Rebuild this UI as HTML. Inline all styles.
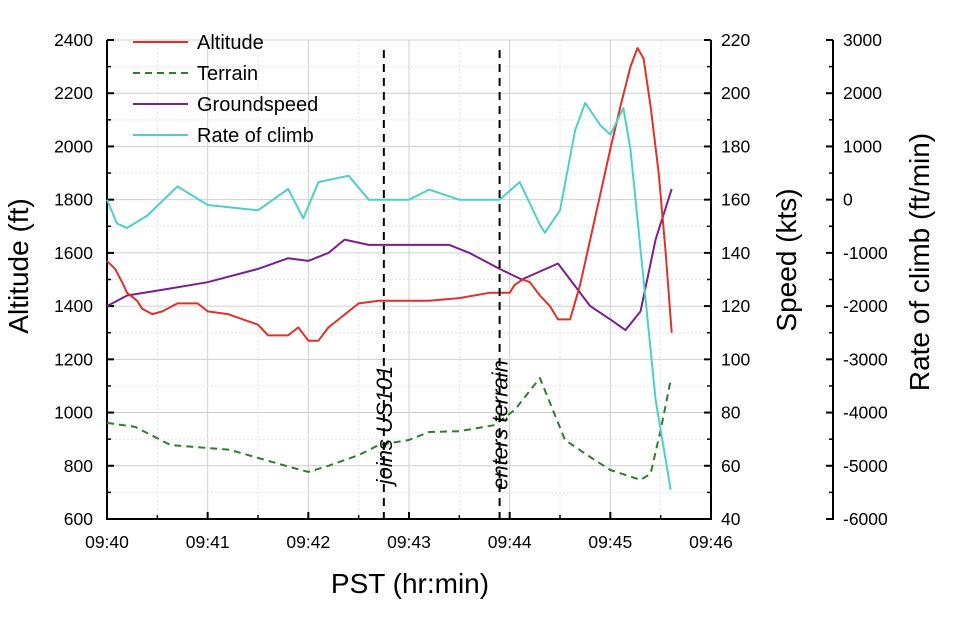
<!DOCTYPE html>
<html><head><meta charset="utf-8"><style>
body{margin:0;background:#fff;}
svg text{font-family:"Liberation Sans",Arial,sans-serif;fill:#000;}
</style></head><body>
<svg id="chart" width="975" height="629" viewBox="0 0 975 629" xmlns="http://www.w3.org/2000/svg"></svg>
<script>
// time in minutes after 09:40
const altT = [0,0.08,0.15,0.2,0.3,0.35,0.45,0.55,0.7,0.9,1.0,1.2,1.5,1.6,1.8,1.9,2.0,2.1,2.2,2.4,2.5,2.7,3.0,3.2,3.5,3.8,4.0,4.05,4.13,4.2,4.3,4.4,4.48,4.6,4.7,4.8,4.9,5.0,5.1,5.2,5.27,5.33,5.4,5.48,5.55,5.61];
const altV = [1570,1540,1490,1450,1420,1390,1370,1380,1410,1410,1380,1370,1330,1290,1290,1320,1270,1270,1320,1380,1410,1420,1420,1420,1430,1450,1450,1480,1500,1490,1440,1400,1350,1350,1480,1650,1820,1990,2150,2300,2370,2330,2150,1900,1600,1300];
const terT = [0,0.28,0.63,1.22,1.82,2.0,2.2,2.5,2.7,3.0,3.2,3.5,3.85,4.05,4.3,4.45,4.55,4.8,5.0,5.3,5.4,5.5,5.6];
const terV = [961,946,878,860,795,777,800,840,878,897,927,930,953,1010,1130,990,897,833,784,747,770,935,1122];
const spdT = [0,0.2,0.53,1.0,1.5,1.8,2.0,2.2,2.36,2.6,3.0,3.4,3.6,3.9,4.12,4.3,4.48,4.6,4.8,5.0,5.15,5.3,5.45,5.61];
const spdV = [120,124,126,129,134,138,137,140,145,143,143,143,140,134,130,133,136,130,120,115,111,118,145,164];
const rocT = [0,0.1,0.2,0.4,0.7,1.0,1.5,1.8,1.95,2.1,2.4,2.6,3.0,3.2,3.5,3.9,4.1,4.3,4.35,4.5,4.65,4.75,4.9,5.0,5.13,5.2,5.35,5.45,5.6];
const rocV = [0,-450,-530,-300,250,-100,-200,200,-350,330,450,0,0,190,0,0,330,-470,-620,-200,1300,1820,1400,1220,1720,940,-1880,-3760,-5450];
const xTicks = ["09:40","09:41","09:42","09:43","09:44","09:45","09:46"];
const altTicks = [600,800,1000,1200,1400,1600,1800,2000,2200,2400];
const spdTicks = [40,60,80,100,120,140,160,180,200,220];
const rocTicks = [-6000,-5000,-4000,-3000,-2000,-1000,0,1000,2000,3000];
const events = [{t:2.75,label:"joins US101"},{t:3.9,label:"enters terrain"}];

const L=107,R=711,T=40,B=519;
const x=t=>L+(t/6)*(R-L);
const yA=v=>B-(v-600)/1800*(B-T);
const yS=v=>B-(v-40)/180*(B-T);
const yR=v=>B-(v+6000)/9000*(B-T);
const svg=document.getElementById('chart');
const NS="http://www.w3.org/2000/svg";
function mk(tag,attrs,parent){const e=document.createElementNS(NS,tag);for(const k in attrs)e.setAttribute(k,attrs[k]);(parent||svg).appendChild(e);return e;}

// grid
for(let i=0;i<=12;i++){const gx=L+i*(R-L)/12;
 const g=mk('line',{x1:gx,x2:gx,y1:T,y2:B,stroke:i%2?'#e4e4e4':'#cfcfcf','stroke-width':1,'stroke-dasharray':i%2?'2,2':''});
 }
for(let i=0;i<=18;i++){const gy=B-i*(B-T)/18;
 const g=mk('line',{x1:L,x2:R,y1:gy,y2:gy,stroke:i%2?'#e4e4e4':'#cfcfcf','stroke-width':1,'stroke-dasharray':i%2?'2,2':''});
 }

// axes
function axisLine(x1,y1,x2,y2,name){const a=mk('line',{x1,y1,x2,y2,stroke:'#000','stroke-width':2});}
axisLine(L,T,L,B+1,'left-axis');
axisLine(L-1,B,R+1,B,'bottom-axis');
axisLine(R,T,R,B+1,'speed-axis');
axisLine(833,T,833,B+1,'rate-axis');

altTicks.forEach((v,i)=>{const yy=yA(v);
 mk('line',{x1:L,x2:L+7,y1:yy,y2:yy,stroke:'#000','stroke-width':2});
 if(i<altTicks.length-1)mk('line',{x1:L,x2:L+4,y1:yy-(B-T)/18,y2:yy-(B-T)/18,stroke:'#000','stroke-width':1.5});
 const t=mk('text',{x:L-14,y:yy+6,'text-anchor':'end','font-size':17.5});t.textContent=v;
 });
spdTicks.forEach((v,i)=>{const yy=yS(v);
 mk('line',{x1:R-7,x2:R,y1:yy,y2:yy,stroke:'#000','stroke-width':2});
 if(i<spdTicks.length-1)mk('line',{x1:R-4,x2:R,y1:yy-(B-T)/18,y2:yy-(B-T)/18,stroke:'#000','stroke-width':1.5});
 const t=mk('text',{x:R+10,y:yy+6,'font-size':17.5});t.textContent=v;
 });
rocTicks.forEach((v,i)=>{const yy=yR(v);
 mk('line',{x1:826,x2:833,y1:yy,y2:yy,stroke:'#000','stroke-width':2});
 if(i<rocTicks.length-1)mk('line',{x1:829,x2:833,y1:yy-(B-T)/18,y2:yy-(B-T)/18,stroke:'#000','stroke-width':1.5});
 const t=mk('text',{x:843,y:yy+6,'font-size':17.5});t.textContent=v;
 });
xTicks.forEach((s,i)=>{const xx=L+i*(R-L)/6;
 mk('line',{x1:xx,x2:xx,y1:B-7,y2:B,stroke:'#000','stroke-width':2});
 if(i<6)mk('line',{x1:xx+(R-L)/12,x2:xx+(R-L)/12,y1:B-4,y2:B,stroke:'#000','stroke-width':1.5});
 const t=mk('text',{x:xx,y:B+29,'text-anchor':'middle','font-size':17.5});t.textContent=s;
 });

let t;
t=mk('text',{x:0,y:0,'font-size':28,'text-anchor':'middle',transform:'translate(28,266) rotate(-90)'});t.textContent='Altitude (ft)';

t=mk('text',{x:0,y:0,'font-size':28,'text-anchor':'middle',transform:'translate(796,260) rotate(-90)'});t.textContent='Speed (kts)';

t=mk('text',{x:0,y:0,'font-size':28,'text-anchor':'middle',transform:'translate(929,262) rotate(-90)'});t.textContent='Rate of climb (ft/min)';

t=mk('text',{x:410,y:593,'font-size':28,'text-anchor':'middle'});t.textContent='PST (hr:min)';


// series
function series(ts,vs,yf,color,name,dash){
 const d=ts.map((tt,i)=>(i?'L':'M')+x(tt).toFixed(1)+','+yf(vs[i]).toFixed(1)).join(' ');
 const p=mk('path',{d,fill:'none',stroke:color,'stroke-width':2,'stroke-linejoin':'round','stroke-dasharray':dash||''});
 }
series(terT,terV,yA,'#2e7d2e','terrain-line','7,5');
series(spdT,spdV,yS,'#7b1f8c','groundspeed-line');
series(altT,altV,yA,'#e0302a','altitude-line');
series(rocT,rocV,yR,'#4fcfc8','rate-of-climb-line');

// events
events.forEach(ev=>{const ex=x(ev.t);
 const l=mk('line',{x1:ex,x2:ex,y1:50,y2:B,stroke:'#000','stroke-width':2,'stroke-dasharray':'8,6'});
 
 const tx=mk('text',{x:0,y:0,'font-size':22,'font-style':'italic','text-anchor':'middle',transform:`translate(${ex+8},${425}) rotate(-90)`});
 tx.textContent=ev.label;
 });

// legend
const leg=[['Altitude','#e0302a',''],['Terrain','#2e7d2e','7,5'],['Groundspeed','#7b1f8c',''],['Rate of climb','#4fcfc8','']];
leg.forEach((e,i)=>{const ly=42+i*31;
 const g=mk('g',{});
 mk('line',{x1:133,x2:188,y1:ly,y2:ly,stroke:e[1],'stroke-width':2,'stroke-dasharray':e[2]},g);
 const tx=mk('text',{x:197,y:ly+7,'font-size':20},g);tx.textContent=e[0];});
</script>
</body></html>
